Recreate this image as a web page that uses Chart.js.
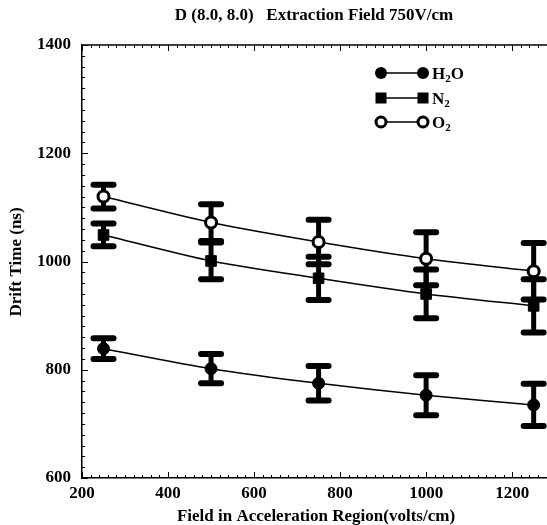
<!DOCTYPE html>
<html>
<head>
<meta charset="utf-8">
<script src="https://cdn.jsdelivr.net/npm/chart.js@4"></script>
<style>
html,body{margin:0;padding:0;background:#fff;}
#wrap{width:547px;height:525px;position:relative;}
</style>
</head>
<body>
<div id="wrap"><canvas id="c" width="547" height="525"></canvas></div>
<script>
// ---- data ----
const fields = [250, 500, 750, 1000, 1250];
const h2o = [839, 802, 775, 753, 735];
const h2oErr = [19, 27, 32, 37, 39];
const n2 = [1049, 1001, 969, 940, 918];
const n2Err = [21, 34, 40, 45, 49];
const o2 = [1120, 1072, 1036, 1005, 982];
const o2Err = [22, 34, 41, 49, 52];
const xTickLabels = [200, 400, 600, 800, 1000, 1200];
const yTickLabels = [600, 800, 1000, 1200, 1400];
const chartTitle = 'D (8.0, 8.0)   Extraction Field 750V/cm';
const xTitle = 'Field in Acceleration Region(volts/cm)';
const yTitle = 'Drift Time (ns)';
const legendItems = [
  {main: 'H', sub: '2', rest: 'O', style: 'circle'},
  {main: 'N', sub: '2', rest: '', style: 'rect'},
  {main: 'O', sub: '2', rest: '', style: 'open'}
];

const FONT = '"Liberation Serif", "Times New Roman", serif';

function toPts(xs, ys) { return xs.map((x, i) => ({x: x, y: ys[i]})); }

const errSets = [
  {vals: h2o, err: h2oErr},
  {vals: n2, err: n2Err},
  {vals: o2, err: o2Err}
];

const framePlugin = {
  id: 'frame',
  beforeDatasetsDraw(chart) {
    const ctx = chart.ctx, xs = chart.scales.x, ys = chart.scales.y;
    const a = chart.chartArea;
    ctx.save();
    ctx.strokeStyle = '#000';
    ctx.lineWidth = 1.5;
    ctx.beginPath(); ctx.moveTo(a.left, a.top); ctx.lineTo(a.right, a.top); ctx.stroke();
    ctx.lineWidth = 1;
    for (let v = 200; v <= 1280; v += 20) {
      const px = Math.round(xs.getPixelForValue(v)) + 0.5;
      const len = (v % 200 === 0) ? 6 : 3;
      ctx.beginPath(); ctx.moveTo(px, a.bottom); ctx.lineTo(px, a.bottom - len); ctx.stroke();
      ctx.beginPath(); ctx.moveTo(px, a.top); ctx.lineTo(px, a.top + len); ctx.stroke();
    }
    for (let v = 600; v <= 1400; v += 20) {
      const py = Math.round(ys.getPixelForValue(v)) + 0.5;
      const len = (v % 200 === 0) ? 6 : 3;
      ctx.beginPath(); ctx.moveTo(a.left, py); ctx.lineTo(a.left + len, py); ctx.stroke();
    }
    ctx.lineCap = 'round';
    errSets.forEach(s => {
      fields.forEach((f, i) => {
        const px = xs.getPixelForValue(f);
        const top = ys.getPixelForValue(s.vals[i] + s.err[i]);
        const bot = ys.getPixelForValue(s.vals[i] - s.err[i]);
        ctx.lineWidth = 5;
        ctx.beginPath(); ctx.moveTo(px, top); ctx.lineTo(px, bot); ctx.stroke();
        ctx.lineWidth = 6;
        ctx.beginPath(); ctx.moveTo(px - 10, top); ctx.lineTo(px + 10, top); ctx.stroke();
        ctx.beginPath(); ctx.moveTo(px - 10, bot); ctx.lineTo(px + 10, bot); ctx.stroke();
      });
    });
    ctx.restore();
  },
  afterDraw(chart) {
    const ctx = chart.ctx;
    ctx.save();
    ctx.fillStyle = '#000';
    ctx.textAlign = 'center';
    ctx.textBaseline = 'middle';
    ctx.font = 'bold 17px ' + FONT;
    ctx.fillText(chartTitle, 314, 16);
    ctx.fillText(xTitle, 316, 517);
    ctx.save();
    ctx.translate(17, 262);
    ctx.rotate(-Math.PI / 2);
    ctx.fillText(yTitle, 0, 0);
    ctx.restore();
    // legend
    const x1 = 381, x2 = 423, rows = [73, 98, 122];
    legendItems.forEach((it, k) => {
      const y = rows[k];
      ctx.strokeStyle = '#000';
      ctx.lineWidth = 1.5;
      ctx.beginPath(); ctx.moveTo(x1, y); ctx.lineTo(x2, y); ctx.stroke();
      [x1, x2].forEach(mx => {
        ctx.beginPath();
        if (it.style === 'rect') {
          ctx.fillRect(mx - 5.5, y - 5.5, 11, 11);
        } else if (it.style === 'circle') {
          ctx.arc(mx, y, 6, 0, Math.PI * 2); ctx.fill();
        } else {
          ctx.fillStyle = '#fff';
          ctx.arc(mx, y, 5, 0, Math.PI * 2); ctx.fill();
          ctx.lineWidth = 3; ctx.stroke();
          ctx.fillStyle = '#000';
        }
      });
      ctx.textAlign = 'left';
      ctx.textBaseline = 'alphabetic';
      let tx = 432;
      const base = y + 6;
      ctx.font = 'bold 17px ' + FONT;
      ctx.fillText(it.main, tx, base); tx += ctx.measureText(it.main).width;
      ctx.font = 'bold 11px ' + FONT;
      ctx.fillText(it.sub, tx, base + 3); tx += ctx.measureText(it.sub).width;
      if (it.rest) { ctx.font = 'bold 17px ' + FONT; ctx.fillText(it.rest, tx, base); }
    });
    ctx.restore();
  }
};

const common = {borderColor: '#000', pointBorderColor: '#000', borderWidth: 1.5, tension: 0.25, fill: false};

new Chart(document.getElementById('c'), {
  type: 'line',
  data: {
    datasets: [
      Object.assign({label: 'H2O', data: toPts(fields, h2o), pointStyle: 'circle', pointRadius: 6, pointBackgroundColor: '#000', pointBorderWidth: 1}, common),
      Object.assign({label: 'N2', data: toPts(fields, n2), pointStyle: 'rect', pointRadius: 7.5, pointBackgroundColor: '#000', pointBorderWidth: 1}, common),
      Object.assign({label: 'O2', data: toPts(fields, o2), pointStyle: 'circle', pointRadius: 5.5, pointBackgroundColor: '#fff', pointBorderWidth: 3}, common)
    ]
  },
  options: {
    responsive: false,
    animation: false,
    events: [],
    layout: {autoPadding: false, padding: {top: 45, left: 0, right: 0, bottom: 0}},
    plugins: {legend: {display: false}, title: {display: false}, tooltip: {enabled: false}},
    scales: {
      x: {
        type: 'linear', min: 200, max: 1281,
        afterFit(s) { s.height = 47; s.paddingRight = 0; s.paddingLeft = 0; },
        afterBuildTicks(s) { s.ticks = xTickLabels.map(v => ({value: v})); },
        border: {display: true, color: '#000', width: 1.5},
        grid: {display: false, drawTicks: false},
        ticks: {
          autoSkip: false, padding: 5, color: '#000', maxRotation: 0,
          font: {family: FONT, size: 17, weight: 'bold'},
          callback: v => String(v)
        }
      },
      y: {
        type: 'linear', min: 600, max: 1400,
        afterFit(s) { s.width = 82; s.paddingTop = 0; s.paddingBottom = 0; },
        afterBuildTicks(s) { s.ticks = yTickLabels.map(v => ({value: v})); },
        border: {display: true, color: '#000', width: 1.5},
        grid: {display: false, drawTicks: false},
        ticks: {
          padding: 11, color: '#000',
          font: {family: FONT, size: 17, weight: 'bold'},
          callback: v => String(v)
        }
      }
    }
  },
  plugins: [framePlugin]
});
</script>
</body>
</html>
